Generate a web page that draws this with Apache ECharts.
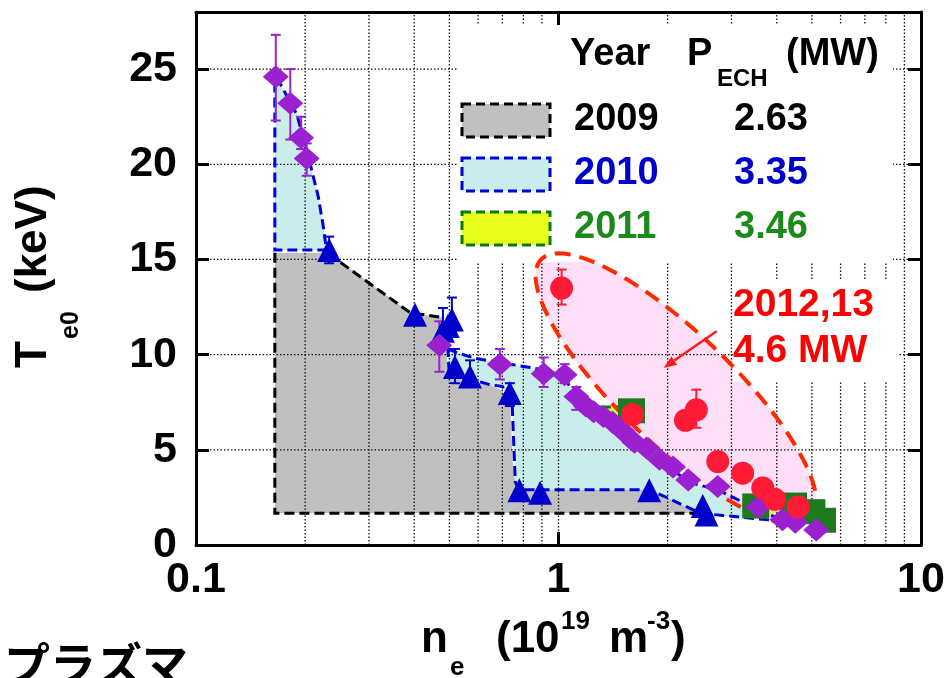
<!DOCTYPE html>
<html>
<head>
<meta charset="utf-8">
<title>Te0 vs ne</title>
<script src="https://cdn.jsdelivr.net/npm/echarts@6/dist/echarts.min.js"></script>
<style>
  html, body { margin: 0; padding: 0; background: #fff; }
  #chart { width: 949px; height: 678px; }
</style>
</head>
<body>
<div id="chart"></div>
<script>
// values: ne (10^19 m^-3), Te0 (keV)
const yTicks = [0, 5, 10, 15, 20, 25];
const yMax = 28;
const gridXs = [0.2, 0.3, 0.4, 0.5, 0.6, 0.7, 0.8, 0.9, 1, 2, 3, 4, 5, 6, 7, 8, 9];
const gridYs = [5, 10, 15, 20, 25];

// operating regions
const region2009 = [[0.165, 1.67], [0.165, 15.35], [0.232, 15.35], [0.39, 12.2], [0.48, 11.95], [0.49, 10.0], [0.50, 8.9],
  [0.60, 8.5], [0.65, 8.4], [0.70, 8.1], [0.735, 7.5], [0.75, 4.0], [0.76, 3.3], [0.78, 2.9], [1.79, 2.9], [2.46, 1.67]];
const edge2009Top = [[0.232, 15.3], [0.39, 12.2], [0.48, 11.95]];
const edge2009Box = [[0.165, 15.35], [0.165, 1.67], [2.46, 1.67]];
const region2010a = [[0.165, 24.3], [0.165, 15.5], [0.229, 15.5], [0.2244, 16.75], [0.2174, 18.3], [0.2085, 19.7], [0.19, 22.6], [0.17, 24.3]];
const region2010b = [[0.495, 10.3], [0.525, 10.1], [0.59, 9.8], [0.75, 9.47], [0.85, 9.3], [0.95, 9.1], [1.04, 8.8], [1.12, 7.7],
  [1.25, 6.85], [1.41, 6.3], [1.62, 5.2], [1.9, 4.35], [2.07, 3.95], [2.28, 3.3], [2.75, 2.9], [3.56, 1.85], [4.2, 1.25],
  [3.8, 1.32], [2.84, 1.55], [2.46, 1.67], [1.79, 2.9], [0.78, 2.9], [0.76, 3.3], [0.745, 7.4], [0.70, 8.33], [0.6466, 8.42],
  [0.55, 8.8], [0.50, 8.9]];
const region2011a = [[1.31, 7.25], [1.47, 7.25], [1.58, 6.6], [1.58, 5.8], [1.45, 6.0], [1.33, 6.8]];
const region2011b = [[3.5, 2.05], [4.3, 2.15], [5.2, 1.5], [4.5, 1.25], [3.7, 1.6]];
const ellipseEnds = [[0.895, 15.0], [4.97, 1.42]];
const ellipseRatio = 0.3;
const arrowLine = [[2.73, 11.23], [1.95, 9.3]];

// points: [ne, Te0, error low, error high]
const diamonds = [
  [0.166, 24.6, 22.3, 26.8], [0.182, 23.2, 21.3, 25.0], [0.195, 21.4, 20.8, 22.5], [0.202, 20.3, 19.4, 21.1],
  [0.469, 10.5, 9.1, 11.75], [0.689, 9.5, 8.7, 10.3], [0.91, 9.0, 8.3, 9.85], [1.04, 8.95, 8.5, 9.5],
  [1.12, 7.8, 7.1, 8.3], [1.19, 7.3, 7.3, 7.3], [1.25, 7.0, 7.0, 7.0], [1.33, 6.75, 6.75, 6.75],
  [1.41, 6.45, 6.45, 6.45], [1.5, 6.0, 6.0, 6.0],
  [1.62, 5.4, 5.4, 5.4], [1.75, 5.1, 5.1, 5.1], [1.9, 4.5, 4.5, 4.5], [2.07, 4.1, 4.1, 4.1],
  [2.28, 3.42, 3.42, 3.42], [2.75, 3.07, 3.07, 3.07], [3.56, 2.0, 2.0, 2.0], [4.15, 1.32, 1.32, 1.32],
  [4.5, 1.2, 1.2, 1.2], [5.14, 0.79, 0.79, 0.79]
];
const triangles = [
  [0.233, 15.5, 14.8, 16.2], [0.402, 12.1, 12.1, 12.1], [0.48, 11.25, 10.6, 12.45], [0.495, 11.5, 11.5, 11.5],
  [0.508, 11.85, 11.2, 13.0], [0.518, 9.35, 8.5, 10.3], [0.57, 8.85, 8.3, 9.7], [0.734, 7.98, 7.3, 8.5],
  [0.78, 2.88, 2.88, 2.88], [0.89, 2.75, 2.75, 2.75], [1.78, 2.88, 2.88, 2.88], [2.5, 2.05, 2.05, 2.05],
  [2.56, 1.6, 1.6, 1.6]
];
const squares = [[1.59, 7.05], [3.5, 2.05], [4.45, 2.1], [5.0, 1.75], [5.35, 1.3]];
const circles = [
  [1.02, 13.5, 12.63, 14.47], [1.60, 6.85, 6.85, 6.85], [2.24, 6.55, 6.55, 6.55], [2.40, 7.1, 6.16, 8.16],
  [2.75, 4.38, 4.38, 4.38], [3.22, 3.77, 3.77, 3.77], [3.66, 3.0, 3.0, 3.0], [3.95, 2.4, 2.4, 2.4],
  [4.58, 2.0, 2.0, 2.0]
];

// legend table
const legendYears = ['2009', '2010', '2011'];
const legendPowers = ['2.63', '3.35', '3.46'];
const legendText = ['#000000', '#0000cc', '#1b8a1b'];
const legendFill = ['#c0c0c0', '#c9edea', '#e8ff1e'];
const legendStroke = ['#000000', '#0000dd', '#0b7a0b'];

const FONT = '"Liberation Sans", Arial, sans-serif';
const DASH = [10, 5];

const fillSeries = (pts, color, z, opacity) => ({
  type: 'custom', silent: true, z, data: [pts[0]],
  renderItem: (params, api) => ({
    type: 'polygon',
    shape: { points: pts.map((p) => api.coord(p)) },
    style: { fill: color, opacity: opacity || 1 }
  })
});

const edgeSeries = (pts, color, closed, z) => ({
  type: 'custom', silent: true, z, data: [pts[0]],
  renderItem: (params, api) => ({
    type: closed ? 'polygon' : 'polyline',
    shape: { points: pts.map((p) => api.coord(p)) },
    style: { fill: 'none', stroke: color, lineWidth: 3, lineDash: DASH }
  })
});

const errSeries = (pts, color, z) => ({
  type: 'custom', silent: true, z,
  data: pts.filter((d) => d[2] !== d[3]),
  encode: { x: 0, y: 1 },
  renderItem: (params, api) => {
    const lo = api.coord([api.value(0), api.value(2)]);
    const hi = api.coord([api.value(0), api.value(3)]);
    const w = 5;
    const st = { stroke: color, lineWidth: 2 };
    return {
      type: 'group',
      children: [
        { type: 'line', shape: { x1: lo[0], y1: lo[1], x2: hi[0], y2: hi[1] }, style: st },
        { type: 'line', shape: { x1: lo[0] - w, y1: lo[1], x2: lo[0] + w, y2: lo[1] }, style: st },
        { type: 'line', shape: { x1: hi[0] - w, y1: hi[1], x2: hi[0] + w, y2: hi[1] }, style: st }
      ]
    };
  }
});

const dotStyle = { stroke: '#111', lineWidth: 1.3, lineDash: [1.5, 2] };

// ellipse in pixel space from its two data-space ends
const ellipseShape = (api) => {
  const p1 = api.coord(ellipseEnds[0]);
  const p2 = api.coord(ellipseEnds[1]);
  const cx = (p1[0] + p2[0]) / 2, cy = (p1[1] + p2[1]) / 2;
  const a = Math.hypot(p2[0] - p1[0], p2[1] - p1[1]) / 2;
  const b = a * ellipseRatio;
  const ang = Math.atan2(p2[1] - p1[1], p2[0] - p1[0]);
  const pts = [];
  for (let i = 0; i < 120; i++) {
    const t = (i / 120) * Math.PI * 2;
    pts.push([
      cx + a * Math.cos(t) * Math.cos(ang) - b * Math.sin(t) * Math.sin(ang),
      cy + a * Math.cos(t) * Math.sin(ang) + b * Math.sin(t) * Math.cos(ang)
    ]);
  }
  return pts;
};

const myChart = echarts.init(document.getElementById('chart'));

const axisCommon = {
  axisLine: { onZero: false, lineStyle: { color: '#000', width: 3 } },
  axisTick: { inside: true, length: 13, lineStyle: { color: '#000', width: 3 } },
  splitLine: { show: false }
};

const txt = (text, x, y, size, color, extra) => Object.assign({
  type: 'text', x, y, z: 10, silent: true,
  style: {
    text, font: 'bold ' + size + 'px ' + FONT, fill: color,
    align: 'left', textAlign: 'left', verticalAlign: 'middle', textVerticalAlign: 'middle'
  }
}, extra || {});

const graphics = [
  // white areas behind the legend and the 2012,13 label
  { type: 'rect', z: 3, silent: true, shape: { x: 457, y: 25, width: 436, height: 237 }, style: { fill: '#fff' } },
  { type: 'rect', z: 3, silent: true, shape: { x: 733, y: 280, width: 165, height: 102 }, style: { fill: '#fff' } },
  txt('Year', 570, 55, 38, '#000'),
  txt('P', 687, 55, 38, '#000'),
  txt('ECH', 717, 79, 24, '#000'),
  txt('(MW)', 786, 55, 38, '#000'),
  txt('2012,13', 733, 305, 39, '#ff0000'),
  txt('4.6 MW', 733, 351, 39, '#ff0000'),
  // x axis title
  txt('n', 421, 640, 44, '#000'),
  txt('e', 450, 668, 26, '#000'),
  txt('(10', 496, 640, 44, '#000'),
  txt('19', 561, 622, 26, '#000'),
  txt('m', 609, 640, 44, '#000'),
  txt('-3', 647, 622, 26, '#000'),
  txt(')', 671, 640, 44, '#000'),
  // y axis title
  {
    type: 'group', x: 34, y: 368, rotation: Math.PI / 2, silent: true,
    children: [
      txt('T', 0, 0, 44, '#000'),
      txt('e0', 29, 37, 25, '#000'),
      txt('(keV)', 75, 0, 44, '#000')
    ]
  },
  {
    type: 'text', x: 4, y: 641, z: 10, silent: true,
    style: {
      text: 'プラズマ', font: 'bold 46px "Noto Sans CJK JP", sans-serif', fill: '#000',
      align: 'left', textAlign: 'left', verticalAlign: 'top', textVerticalAlign: 'top'
    }
  }
];

const rowY = [120, 174, 228];
legendYears.forEach((yr, i) => {
  graphics.push({
    type: 'rect', z: 10, silent: true,
    shape: { x: 462, y: rowY[i] - 16, width: 88, height: 33 },
    style: { fill: legendFill[i], stroke: legendStroke[i], lineWidth: 3, lineDash: [9, 5] }
  });
  graphics.push(txt(yr, 574, rowY[i], 38, legendText[i]));
  graphics.push(txt(legendPowers[i], 734, rowY[i], 38, legendText[i]));
});

const option = {
  animation: false,
  backgroundColor: '#fff',
  textStyle: { fontFamily: FONT },
  grid: { left: 196, right: 28, top: 12, bottom: 133 },
  xAxis: [
    Object.assign({
      type: 'log', logBase: 10, min: 0.1, max: 10, position: 'bottom',
      axisLabel: {
        fontSize: 43, fontWeight: 'bold', color: '#000', margin: 14,
        formatter: (v) => String(+Number(v).toPrecision(3))
      }
    }, axisCommon),
    Object.assign({
      type: 'log', logBase: 10, min: 0.1, max: 10, position: 'top', axisLabel: { show: false }
    }, axisCommon)
  ],
  yAxis: [
    Object.assign({
      type: 'value', min: 0, max: yMax, interval: 5, position: 'left',
      axisLabel: {
        fontSize: 43, fontWeight: 'bold', color: '#000', margin: 19,
        formatter: (v) => (yTicks.includes(v) ? String(v) : '')
      }
    }, axisCommon),
    Object.assign({
      type: 'value', min: 0, max: yMax, interval: 5, position: 'right', axisLabel: { show: false }
    }, axisCommon)
  ],
  graphic: { elements: graphics },
  series: [
    fillSeries(region2010a, '#c9edea', 1),
    fillSeries(region2010b, '#c9edea', 1),
    fillSeries(region2009, '#c0c0c0', 1.1),
    fillSeries(region2011a, '#e8ff1e', 1.2),
    fillSeries(region2011b, '#e8ff1e', 1.2),
    {
      type: 'custom', silent: true, z: 1.5, data: [ellipseEnds[0]],
      renderItem: (params, api) => ({
        type: 'polygon', shape: { points: ellipseShape(api) },
        style: { fill: '#ffc8f2', opacity: 0.6 }
      })
    },
    // dotted grid
    {
      type: 'custom', silent: true, z: 2, data: gridXs.map((x) => [x, 0]),
      renderItem: (params, api) => {
        const a = api.coord([api.value(0), 0]);
        const b = api.coord([api.value(0), yMax]);
        return { type: 'line', shape: { x1: a[0], y1: a[1], x2: b[0], y2: b[1] }, style: dotStyle };
      }
    },
    {
      type: 'custom', silent: true, z: 2, data: gridYs.map((y) => [0.1, y]),
      renderItem: (params, api) => {
        const a = api.coord([0.1, api.value(1)]);
        const b = api.coord([10, api.value(1)]);
        return { type: 'line', shape: { x1: a[0], y1: a[1], x2: b[0], y2: b[1] }, style: dotStyle };
      }
    },
    edgeSeries(region2010a, '#0000dd', true, 4),
    edgeSeries(region2010b, '#0000dd', true, 4),
    edgeSeries(edge2009Top, '#000', false, 4.1),
    edgeSeries(edge2009Box, '#000', false, 4.1),
    edgeSeries(region2011a, '#0b7a0b', true, 4.2),
    {
      type: 'custom', silent: true, z: 4.5, data: [ellipseEnds[0]],
      renderItem: (params, api) => ({
        type: 'polygon', shape: { points: ellipseShape(api) },
        style: { fill: 'none', stroke: '#ff2a00', lineWidth: 4, lineDash: [16, 9] }
      })
    },
    {
      type: 'custom', silent: true, z: 4.6, data: [arrowLine[0]],
      renderItem: (params, api) => {
        const s = api.coord(arrowLine[0]);
        const e = api.coord(arrowLine[1]);
        const ang = Math.atan2(e[1] - s[1], e[0] - s[0]);
        const L = 13, W = 5;
        const bx = e[0] - L * Math.cos(ang), by = e[1] - L * Math.sin(ang);
        return {
          type: 'group',
          children: [
            { type: 'line', shape: { x1: s[0], y1: s[1], x2: bx, y2: by }, style: { stroke: '#ff1a1a', lineWidth: 2.5 } },
            {
              type: 'polygon',
              shape: { points: [e, [bx - W * Math.sin(ang), by + W * Math.cos(ang)], [bx + W * Math.sin(ang), by - W * Math.cos(ang)]] },
              style: { fill: '#ff1a1a' }
            }
          ]
        };
      }
    },
    errSeries(triangles, '#0000cc', 5),
    errSeries(diamonds, '#9b20cf', 5),
    errSeries(circles, '#ff1a35', 5),
    {
      name: 'triangles', type: 'scatter', silent: true, z: 6, symbol: 'triangle', symbolSize: 24,
      data: triangles.map((d) => [d[0], d[1]]), itemStyle: { color: '#0000cc', opacity: 1 }
    },
    {
      name: 'squares', type: 'scatter', silent: true, z: 7, symbol: 'rect', symbolSize: [27, 25],
      data: squares, itemStyle: { color: '#1e7a1e', opacity: 1 }
    },
    {
      name: 'diamonds', type: 'scatter', silent: true, z: 8, symbol: 'diamond', symbolSize: [26, 23],
      data: diamonds.map((d) => [d[0], d[1]]), itemStyle: { color: '#9b20cf', opacity: 1 }
    },
    {
      name: 'circles', type: 'scatter', silent: true, z: 9, symbol: 'circle', symbolSize: 23,
      data: circles.map((d) => [d[0], d[1]]), itemStyle: { color: '#ff1a35', opacity: 1 }
    }
  ]
};

myChart.setOption(option);
</script>
</body>
</html>
